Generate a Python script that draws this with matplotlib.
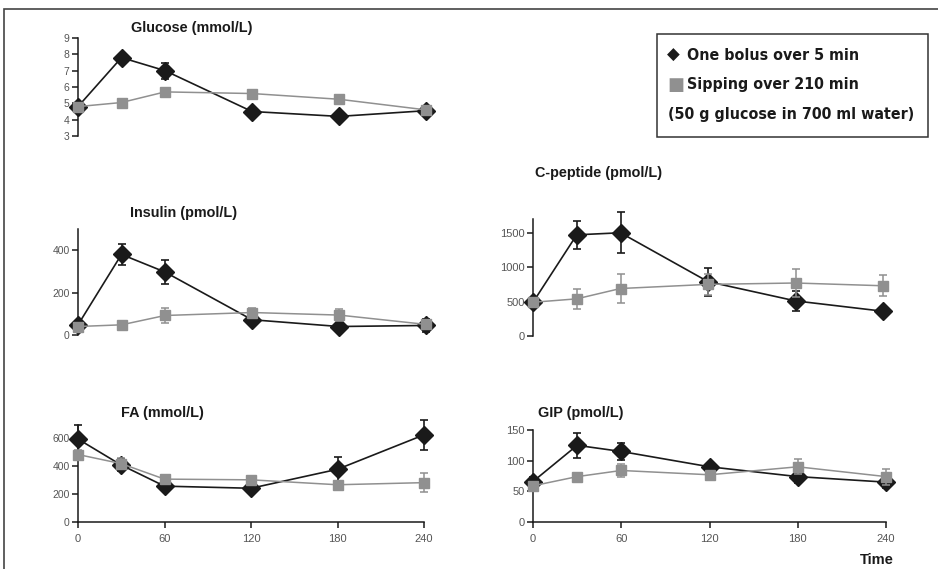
import matplotlib.pyplot as plt
from matplotlib.patches import Rectangle

W, H = 938, 569

time = [0, 30, 60, 120, 180, 240]

glucose_bolus = [4.8, 7.8, 7.0, 4.5, 4.2, 4.55]
glucose_bolus_err = [0.1, 0.25, 0.5, 0.1, 0.1, 0.1]
glucose_sip = [4.8, 5.05, 5.7, 5.6, 5.25, 4.6]
glucose_sip_err = [0.1, 0.1, 0.1, 0.1, 0.1, 0.1]

insulin_bolus = [48, 380, 297, 72, 40, 45]
insulin_bolus_err = [20, 48, 58, 20, 15, 30]
insulin_sip = [40, 48, 92, 106, 94, 50]
insulin_sip_err = [10, 10, 35, 20, 30, 15]

cpep_bolus = [490, 1470, 1500, 790, 510, 360]
cpep_bolus_err = [60, 200, 300, 205, 145, 40]
cpep_sip = [490, 540, 690, 750, 770, 730]
cpep_sip_err = [40, 150, 205, 150, 205, 150]

fa_bolus = [590, 405, 255, 240, 375, 620]
fa_bolus_err = [100, 40, 20, 20, 85, 105]
fa_sip = [480, 415, 305, 300, 265, 280]
fa_sip_err = [35, 40, 20, 20, 30, 70]

gip_bolus = [66, 125, 115, 90, 74, 65]
gip_bolus_err = [8, 20, 14, 5, 10, 10]
gip_sip = [59, 74, 84, 77, 90, 74]
gip_sip_err = [5, 4, 10, 4, 12, 13]

BLACK = '#1a1a1a'
GREY = '#909090'
TICK = '#555555'

plt.rcParams['font.family'] = ['Liberation Sans', 'DejaVu Sans']

fig = plt.figure(figsize=(W / 100, H / 100), dpi=100)
fig.patch.set_facecolor('white')

# outer frame
fig.patches.append(Rectangle((4 / W, -0.1), 1.2, 1 - 9 / H + 0.1,
                             transform=fig.transFigure, fill=False,
                             edgecolor='#444444', lw=1.2))


def panel(x0, x1, ybot, ytop, ylim, yticks, bolus, bolus_err, sip, sip_err,
          xaxis=False, ysize=8):
    ax = fig.add_axes([x0 / W, 1 - ybot / H, (x1 - x0) / W, (ybot - ytop) / H])
    ax.patch.set_alpha(0)
    ax.errorbar(time, bolus, yerr=bolus_err, color=BLACK, lw=1.2, marker='D',
                ms=9, mfc=BLACK, mec=BLACK, capsize=3, elinewidth=1.2,
                capthick=1.2, clip_on=False, zorder=3)
    ax.errorbar(time, sip, yerr=sip_err, color=GREY, lw=1.1, marker='s',
                ms=7.5, mfc=GREY, mec=GREY, capsize=3, elinewidth=1.1,
                capthick=1.1, clip_on=False, zorder=4)
    ax.set_xlim(0, 240)
    ax.set_ylim(*ylim)
    ax.set_yticks(yticks)
    for s in ['top', 'right']:
        ax.spines[s].set_visible(False)
    ax.spines['left'].set_color(BLACK)
    ax.spines['left'].set_linewidth(1.1)
    ax.tick_params(axis='y', direction='out', length=4, width=1.1,
                   color=BLACK, labelcolor=TICK, labelsize=ysize, pad=2)
    if xaxis:
        ax.spines['bottom'].set_color(BLACK)
        ax.spines['bottom'].set_linewidth(1.1)
        ax.set_xticks([0, 60, 120, 180, 240])
        ax.tick_params(axis='x', direction='out', length=4, width=1.1,
                       color=BLACK, labelcolor=TICK, labelsize=8, pad=5)
    else:
        ax.spines['bottom'].set_visible(False)
        ax.set_xticks([])
    return ax


panel(78, 426, 136, 38, (3, 9), range(3, 10),
      glucose_bolus, glucose_bolus_err, glucose_sip, glucose_sip_err,
      ysize=7.5)
panel(78, 426, 335, 229, (0, 500), [0, 200, 400],
      insulin_bolus, insulin_bolus_err, insulin_sip, insulin_sip_err,
      ysize=7.5)
panel(533, 883, 336, 219, (0, 1700), [0, 500, 1000, 1500],
      cpep_bolus, cpep_bolus_err, cpep_sip, cpep_sip_err)
panel(78, 424, 522, 425, (0, 690), [0, 200, 400, 600],
      fa_bolus, fa_bolus_err, fa_sip, fa_sip_err, xaxis=True, ysize=7.5)
panel(533, 886, 522, 430, (0, 150), [0, 50, 100, 150],
      gip_bolus, gip_bolus_err, gip_sip, gip_sip_err, xaxis=True)

titles = [('Glucose (mmol/L)', 192, 28), ('Insulin (pmol/L)', 184, 213),
          ('C-peptide (pmol/L)', 599, 173), ('FA (mmol/L)', 162, 413),
          ('GIP (pmol/L)', 581, 413)]
for text, x, y in titles:
    fig.text(x / W, 1 - y / H, text, ha='center', va='center',
             fontsize=10.4, fontweight='bold', color=BLACK)

fig.text(877 / W, 1 - 560 / H, 'Time', ha='center', va='center',
         fontsize=10.5, fontweight='bold', color=BLACK)

# legend box
fig.patches.append(Rectangle((657 / W, 1 - 137 / H), 271 / W, 103 / H,
                             transform=fig.transFigure, fill=False,
                             edgecolor='#333333', lw=1.1))
leg = dict(ha='left', va='center', fontsize=11.4, fontweight='bold',
           color=BLACK, family='DejaVu Sans', stretch='condensed')
fig.text(667 / W, 1 - 55 / H, '◆', ha='left', va='center', fontsize=12,
         color=BLACK, family='DejaVu Sans')
fig.text(687 / W, 1 - 55 / H, 'One bolus over 5 min', **leg)
fig.text(667 / W, 1 - 85 / H, '■', ha='left', va='center', fontsize=13,
         color=GREY, family='DejaVu Sans')
fig.text(687 / W, 1 - 85 / H, 'Sipping over 210 min', **leg)
fig.text(668 / W, 1 - 115 / H, '(50 g glucose in 700 ml water)', **leg)

fig.savefig('out.png', dpi=100)
